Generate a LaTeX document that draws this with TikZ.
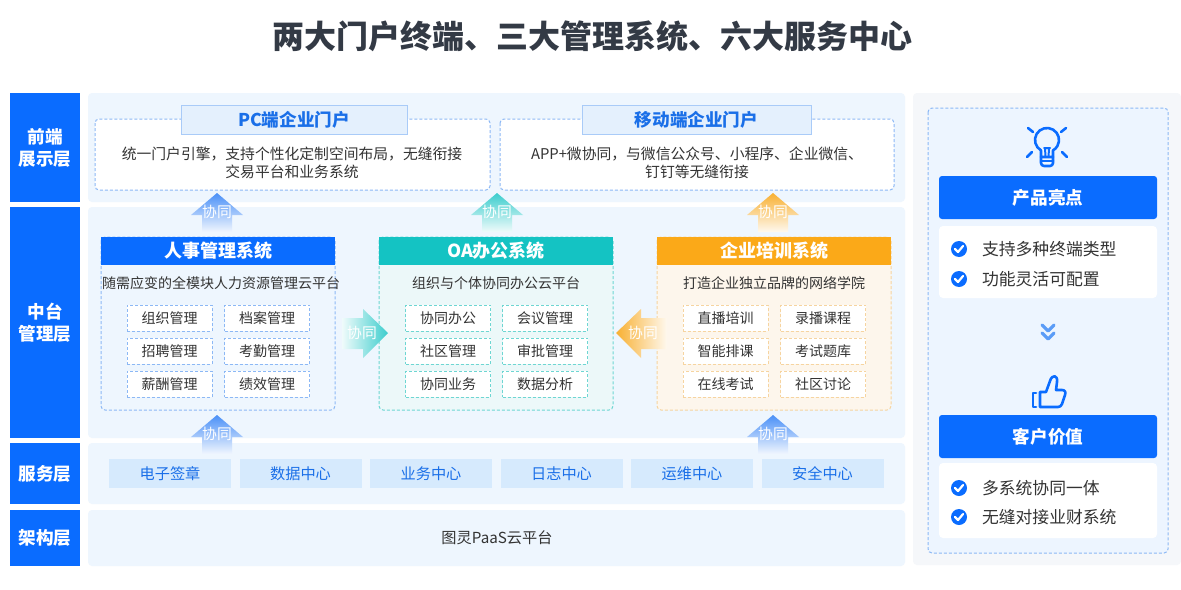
\documentclass[tikz,border=0pt]{standalone}
\usepackage{fontspec}
\setmainfont{Noto Sans CJK SC}
\usetikzlibrary{calc}

\definecolor{mainblue}{RGB}{10,108,255}
\definecolor{panelbg}{RGB}{238,246,254}
\definecolor{sidebg}{RGB}{245,247,250}
\definecolor{sidefill}{RGB}{237,245,255}
\definecolor{dashblue}{RGB}{140,184,245}
\definecolor{dashteal}{RGB}{110,214,210}
\definecolor{dashorange}{RGB}{246,212,160}
\definecolor{tabfill}{RGB}{228,240,253}
\definecolor{tabline}{RGB}{169,203,248}
\definecolor{tabtextc}{RGB}{26,111,232}
\definecolor{textgray}{RGB}{51,51,51}
\definecolor{titlegray}{RGB}{51,58,69}
\definecolor{tealhead}{RGB}{20,195,195}
\definecolor{orangehead}{RGB}{251,169,24}
\definecolor{oafill}{RGB}{236,248,249}
\definecolor{trfill}{RGB}{253,246,236}
\definecolor{servfill}{RGB}{214,234,253}
\definecolor{servtext}{RGB}{26,111,232}
\definecolor{flowblue}{RGB}{74,144,247}
\definecolor{flowteal}{RGB}{60,205,205}
\definecolor{floworange}{RGB}{248,176,50}
\definecolor{chevblue}{RGB}{91,156,247}

\def\upflow[#1](#2,#3){\shade[top color=#1, bottom color=#1!8] (#2,#3) -- ++(26,22) -- ++(-11,0) -- ++(0,17) -- ++(-30,0) -- ++(0,-17) -- ++(-11,0) -- cycle;}
\def\checkdot(#1,#2){\fill[mainblue] (#1,#2) circle (8); \draw[white, line width=1.1pt, line cap=round, line join=round] (#1-4,#2) -- (#1-1,#2+3) -- (#1+4,#2-3);}

\tikzset{
  layertext/.style={text=white, font=\fontsize{8.8}{11}\selectfont\bfseries, align=center},
  tabbox/.style={fill=tabfill, draw=tabline, line width=0.5pt},
  tabtext/.style={text=tabtextc, font=\fontsize{8.8}{10}\selectfont\bfseries},
  portalbox/.style={draw=dashblue, fill=white, dash pattern=on 1.5pt off 1pt, line width=0.5pt, rounded corners=2pt},
  bodytext/.style={text=textgray, font=\fontsize{7.4}{9}\selectfont, align=center},
  systitle/.style={text=white, font=\fontsize{9}{11}\selectfont\bfseries},
  subtext/.style={text=textgray, font=\fontsize{7}{9}\selectfont},
  unitbox/.style={fill=white, dash pattern=on 1.5pt off 1pt, line width=0.5pt, minimum width=42.5pt, minimum height=13pt, inner sep=0pt, text=textgray, font=\fontsize{7}{9}\selectfont},
  hrunit/.style={unitbox, draw=dashblue},
  oaunit/.style={unitbox, draw=dashteal},
  trunit/.style={unitbox, draw=dashorange},
  flowtext/.style={text=white, font=\fontsize{7.4}{9}\selectfont},
  servunit/.style={fill=servfill, text=servtext, minimum width=61pt, minimum height=14.5pt, inner sep=0pt, font=\fontsize{7.6}{9}\selectfont},
  headbar/.style={fill=mainblue, rounded corners=1.5pt},
  headtext/.style={text=white, font=\fontsize{8.8}{11}\selectfont\bfseries},
  pointtext/.style={anchor=west, text=textgray, font=\fontsize{8.4}{10}\selectfont},
  icon/.style={draw=mainblue, line width=1.3pt, line cap=round, line join=round},
}

\begin{document}
\begin{tikzpicture}[x=0.5pt, y=-0.5pt]
			%%%%% START %%%%%
			\useasboundingbox (0,0) rectangle (1181,589);
			\fill[white] (0,0) rectangle (1181,589);
			
			\node[text=titlegray, font=\fontsize{16}{19}\selectfont\bfseries] (title) at (592,36) {两大门户终端、三大管理系统、六大服务中心};
			
			% layer labels
			\fill[mainblue] (10,93) rectangle (80,202);
			\node[layertext] (lfront) at (45,147.5) {前端\\展示层};
			\fill[mainblue] (10,207) rectangle (80,438);
			\node[layertext] (lmid) at (45,322.5) {中台\\管理层};
			\fill[mainblue] (10,443) rectangle (80,504);
			\node[layertext] (lserv) at (45,473.5) {服务层};
			\fill[mainblue] (10,510) rectangle (80,566);
			\node[layertext] (larch) at (45,538) {架构层};
			
			% panels
			\fill[panelbg, rounded corners=2pt] (88,93) rectangle (905,202);
			\fill[panelbg, rounded corners=2pt] (88,207) rectangle (905,438);
			\fill[panelbg, rounded corners=2pt] (88,443) rectangle (905,504);
			\fill[panelbg, rounded corners=2pt] (88,510) rectangle (905,566);
			
			% front portals
			\draw[portalbox] (95,119) rectangle (490,190);
			\draw[tabbox] (181,105) rectangle (407,134);
			\node[tabtext] (pctab) at (294,119.5) {PC端企业门户};
			\node[bodytext] (pctext) at (292,163) {统一门户引擎，支持个性化定制空间布局，无缝衔接\\交易平台和业务系统};
			
			\draw[portalbox] (500,119) rectangle (894,190);
			\draw[tabbox] (582,105) rectangle (811,134);
			\node[tabtext] (mobtab) at (696.5,119.5) {移动端企业门户};
			\node[bodytext] (mobtext) at (697,163) {APP+微协同，与微信公众号、小程序、企业微信、\\钉钉等无缝衔接};
			
			% up arrows to portals
			\upflow[flowblue](217,193)
			\node[flowtext] (fhr) at (217,212) {协同};
			\upflow[flowteal](497,193)
			\node[flowtext] (foa) at (497,212) {协同};
			\upflow[floworange](773,193)
			\node[flowtext] (ftr) at (773,212) {协同};
			
			% HR system
			\draw[draw=dashblue, fill=panelbg, dash pattern=on 1.5pt off 1pt, line width=0.5pt, rounded corners=2pt] (101,237) rectangle (335,410);
			\fill[mainblue] (101,237) rectangle (335,265);
			\node[systitle] (hrtitle) at (218,251) {人事管理系统};
			\node[subtext] (hrsub) at (221,283) {随需应变的全模块人力资源管理云平台};
			\node[hrunit] (hr1) at (169.5,318) {组织管理};
			\node[hrunit] (hr2) at (267,318) {档案管理};
			\node[hrunit] (hr3) at (169.5,351) {招聘管理};
			\node[hrunit] (hr4) at (267,351) {考勤管理};
			\node[hrunit] (hr5) at (169.5,384) {薪酬管理};
			\node[hrunit] (hr6) at (267,384) {绩效管理};
			
			% OA system
			\draw[draw=dashteal, fill=oafill, dash pattern=on 1.5pt off 1pt, line width=0.5pt, rounded corners=2pt] (379,237) rectangle (613,410);
			\fill[tealhead] (379,237) rectangle (613,265);
			\node[systitle] (oatitle) at (496,251) {OA办公系统};
			\node[subtext] (oasub) at (496,283) {组织与个体协同办公云平台};
			\node[oaunit] (oa1) at (448,318) {协同办公};
			\node[oaunit] (oa2) at (545,318) {会议管理};
			\node[oaunit] (oa3) at (448,351) {社区管理};
			\node[oaunit] (oa4) at (545,351) {审批管理};
			\node[oaunit] (oa5) at (448,384) {协同业务};
			\node[oaunit] (oa6) at (545,384) {数据分析};
			
			% training system
			\draw[draw=dashorange, fill=trfill, dash pattern=on 1.5pt off 1pt, line width=0.5pt, rounded corners=2pt] (657,237) rectangle (891,410);
			\fill[orangehead] (657,237) rectangle (891,265);
			\node[systitle] (trtitle) at (774,251) {企业培训系统};
			\node[subtext] (trsub) at (774,283) {打造企业独立品牌的网络学院};
			\node[trunit] (tr1) at (725.5,318) {直播培训};
			\node[trunit] (tr2) at (823,318) {录播课程};
			\node[trunit] (tr3) at (725.5,351) {智能排课};
			\node[trunit] (tr4) at (823,351) {考试题库};
			\node[trunit] (tr5) at (725.5,384) {在线考试};
			\node[trunit] (tr6) at (823,384) {社区讨论};
			
			% side arrows into OA
			\shade[left color=flowteal!8, right color=flowteal] (342,318) -- (363,318) -- (363,309) -- (388,333) -- (363,358) -- (363,349) -- (342,349) -- cycle;
			\node[flowtext] (fhroa) at (362,333) {协同};
			\shade[left color=floworange, right color=floworange!8] (667,318) -- (641,318) -- (641,309) -- (616,333) -- (641,358) -- (641,349) -- (667,349) -- cycle;
			\node[flowtext] (ftroa) at (643,333) {协同};
			
			% up arrows from services
			\upflow[flowblue](217,415)
			\node[flowtext] (fshr) at (217,434) {协同};
			\upflow[flowblue](773,415)
			\node[flowtext] (fstr) at (773,434) {协同};
			
			% services
			\node[servunit] (s1) at (170,473.5) {电子签章};
			\node[servunit] (s2) at (300.5,473.5) {数据中心};
			\node[servunit] (s3) at (431,473.5) {业务中心};
			\node[servunit] (s4) at (561.5,473.5) {日志中心};
			\node[servunit] (s5) at (692,473.5) {运维中心};
			\node[servunit] (s6) at (822.5,473.5) {安全中心};
			
			\node[text=textgray, font=\fontsize{7.6}{9}\selectfont] (paas) at (497,538) {图灵PaaS云平台};
			
			% right column
			\fill[sidebg, rounded corners=2pt] (913,93) rectangle (1181,565);
			\draw[draw=dashblue, fill=sidefill, dash pattern=on 1.5pt off 1pt, line width=0.5pt, rounded corners=2pt] (928,108) rectangle (1168,553);
			
			\draw[icon] (1047,140) ++(120:12) arc (120:420:12) -- (1053,157) -- (1041,157) -- (1041,150.4);
			\draw[icon, rounded corners=1.5pt] (1041,157) -- (1041,166) -- (1053,166) -- (1053,157);
			\draw[icon] (1041,161) -- (1053,161);
			\draw[icon, line width=1pt] (1044,148) -- (1050,148) (1045,148) -- (1045.5,157) (1049,148) -- (1048.5,157);
			\draw[icon] (1028,128) -- (1033,132);
			\draw[icon] (1066,128) -- (1061,132);
			\draw[icon] (1027,157) -- (1032,152);
			\draw[icon] (1067,157) -- (1062,152);
			
			\fill[headbar] (939,176) rectangle (1157,219);
			\node[headtext] (hilite) at (1048,197.5) {产品亮点};
			\fill[white, rounded corners=2pt] (939,226) rectangle (1157,298);
			\checkdot(959,249)
			\node[pointtext] (p1) at (975,249) {支持多种终端类型};
			\checkdot(959,279)
			\node[pointtext] (p2) at (975,279) {功能灵活可配置};
			
			\draw[draw=chevblue, line width=1.6pt, line cap=round, line join=round] (1042,325) -- (1048,331) -- (1054,325) (1042,333) -- (1048,339) -- (1054,333);
			
			\draw[icon] (1040,392) -- (1046,392) -- (1050,381) .. controls (1052,374) and (1058,375) .. (1057,382) -- (1056,390) -- (1062,390) .. controls (1065,390) and (1066,392) .. (1065,395) -- (1062,404) .. controls (1061,406) and (1060,407) .. (1058,407) -- (1040,407) -- cycle;
			\draw[icon] (1036,393) -- (1033,393) -- (1033,407) -- (1036,407);
			
			\fill[headbar] (939,415) rectangle (1157,458);
			\node[headtext] (value) at (1048,436.5) {客户价值};
			\fill[white, rounded corners=2pt] (939,463) rectangle (1157,538);
			\checkdot(959,488)
			\node[pointtext] (v1) at (975,488) {多系统协同一体};
			\checkdot(959,517)
			\node[pointtext] (v2) at (975,517) {无缝对接业财系统};
			
			%%%%% END %%%%%
\end{tikzpicture}
\end{document}
